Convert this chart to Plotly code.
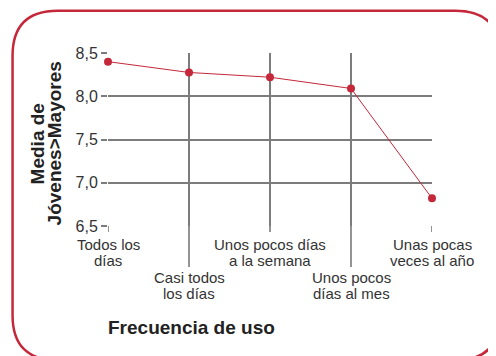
import plotly.graph_objects as go

categorias = ["Todos los<br>días", "Casi todos<br>los días", "Unos pocos días<br>a la semana",
              "Unos pocos<br>días al mes", "Unas pocas<br>veces al año"]
medias = [8.40, 8.275, 8.22, 8.09, 6.82]
y_ticks = [6.5, 7.0, 7.5, 8.0, 8.5]

# the page body has an 8px margin, so work in reference pixels minus OFF
OFF = 8
W, H = 496 - OFF, 356 - OFF
L, R, T, B = 107.5 - OFF, 496 - 431.7, 53.3 - OFF, 356 - 226
pw, ph = W - L - R, H - T - B
rojo = "#c4283a"
gris = "#7c7c7c"
fuente = "Liberation Sans, Arial, sans-serif"


def px_x(x):
    return (x - OFF - L) / pw


def px_y(y):
    return (H - B - (y - OFF)) / ph


xs = list(range(len(categorias)))

fig = go.Figure()
fig.add_trace(go.Scatter(x=xs, y=medias, mode="lines+markers",
                         line=dict(color=rojo, width=1),
                         marker=dict(color=rojo, size=8),
                         cliponaxis=False, hoverinfo="skip"))

shapes = []
# marco redondeado
x0, y0, x1, y1, r = 12, 11, 500, 360, 45
path = (f"M {px_x(x0 + r)},{px_y(y0)} L {px_x(x1 - r)},{px_y(y0)} "
        f"Q {px_x(x1)},{px_y(y0)} {px_x(x1)},{px_y(y0 + r)} "
        f"L {px_x(x1)},{px_y(y1 - r)} Q {px_x(x1)},{px_y(y1)} {px_x(x1 - r)},{px_y(y1)} "
        f"L {px_x(x0 + r)},{px_y(y1)} Q {px_x(x0)},{px_y(y1)} {px_x(x0)},{px_y(y1 - r)} "
        f"L {px_x(x0)},{px_y(y0 + r)} Q {px_x(x0)},{px_y(y0)} {px_x(x0 + r)},{px_y(y0)} Z")
shapes.append(dict(type="path", path=path, xref="paper", yref="paper",
                   line=dict(color=rojo, width=2.5), layer="below"))

annotations = []
for i, cat in enumerate(categorias):
    abajo = i % 2 == 1
    fin = 267 if abajo else 232
    shapes.append(dict(type="line", xref="x", yref="paper", x0=i, x1=i,
                       y0=0, y1=px_y(fin), line=dict(color="#5a5a5a", width=1.3)))
    y_linea = 277 if abajo else 244
    for j, linea in enumerate(cat.split("<br>")):
        annotations.append(dict(x=i, xref="x", yref="paper", y=px_y(y_linea + 16 * j),
                                xanchor="center", yanchor="middle", text=linea, showarrow=False,
                                font=dict(family=fuente, size=15, color="#333333")))

for texto, cx in [("Media de", 37), ("Jóvenes>Mayores", 54)]:
    annotations.append(dict(x=px_x(cx), y=px_y(144), xref="paper", yref="paper",
                            xanchor="center", yanchor="middle",
                            text=f"<b>{texto}</b>", textangle=-90, showarrow=False,
                            font=dict(family=fuente, size=19, color="#222222")))
annotations.append(dict(x=px_x(105), y=px_y(327), xref="paper", yref="paper",
                        xanchor="left", yanchor="middle", text="<b>Frecuencia de uso</b>",
                        showarrow=False, font=dict(family=fuente, size=19, color="#222222")))

fig.update_layout(
    width=W, height=H, margin=dict(l=L, r=R, t=T, b=B, pad=0),
    paper_bgcolor="white", plot_bgcolor="white",
    separators=",.", showlegend=False,
    shapes=shapes, annotations=annotations,
    font=dict(family=fuente, size=16, color="#333333"),
    xaxis=dict(range=[0, 4], tickvals=xs, showticklabels=False, showgrid=True,
               gridcolor=gris, gridwidth=1.6, zeroline=False, showline=False, ticks=""),
    yaxis=dict(range=[6.5, 8.5], tickvals=y_ticks, tickformat=".1f", showgrid=True,
               gridcolor=gris, gridwidth=1.6, zeroline=False, showline=False,
               ticks="outside", ticklen=6, tickcolor=gris, tickwidth=1.6,
               tickfont=dict(family=fuente, size=16, color="#333333")),
)

fig.write_html("out.html")
